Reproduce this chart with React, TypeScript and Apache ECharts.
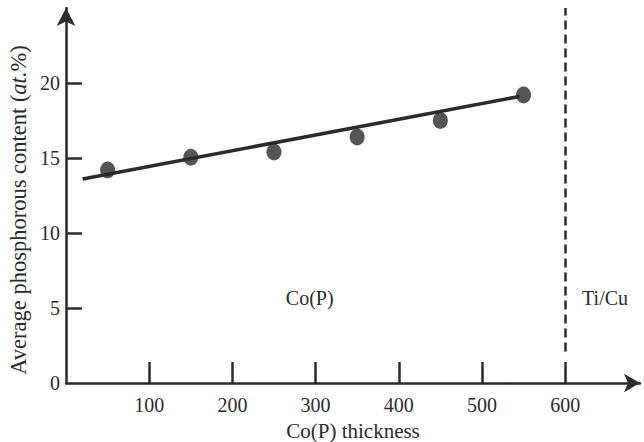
import React, { useEffect, useRef } from "react";
import * as echarts from "echarts";

const thickness = [50, 150, 250, 350, 450, 550];
const phosphorus = [14.2, 15.05, 15.4, 16.4, 17.5, 19.2];
const fitX = [20, 545];
const fitY = [13.6, 19.1];
const xTicks = [100, 200, 300, 400, 500, 600];
const yTicks = [5, 10, 15, 20];
const yLabels = [0, 5, 10, 15, 20];
const boundaryX = 600;
const regionLabels = [
  { name: "Co(P)", x: 293, y: 5.7 },
  { name: "Ti/Cu", x: 648, y: 5.7 },
];

const INK = "#2b2b2b";
const FONT = "Liberation Serif";

export default function App() {
  const ref = useRef<HTMLDivElement>(null);
  useEffect(() => {
    if (!ref.current) return;
    const chart = echarts.init(ref.current, undefined, { renderer: "svg" });
    chart.setOption({
      animation: false,
      backgroundColor: "#fff",
      textStyle: { fontFamily: FONT, color: INK },
      grid: { left: 66, top: 8, width: 574, height: 375, outerBoundsMode: "none", containLabel: false },
      xAxis: {
        type: "value",
        min: 0,
        max: 690,
        interval: 100,
        splitLine: { show: false },
        axisLine: { show: true, symbol: ["none", "arrow"], symbolSize: [14, 16], lineStyle: { color: INK, width: 2.5 } },
        axisTick: { show: true, inside: true, length: 21, customValues: xTicks, lineStyle: { color: INK, width: 2.5 } },
        axisLabel: { customValues: xTicks, color: INK, fontFamily: FONT, fontSize: 20, margin: 12 },
        name: "Co(P) thickness",
        nameLocation: "middle",
        nameGap: 30,
        nameTextStyle: { color: INK, fontFamily: FONT, fontSize: 21, lineHeight: 22 },
      },
      yAxis: {
        type: "value",
        min: 0,
        max: 25,
        interval: 5,
        splitLine: { show: false },
        axisLine: { show: true, symbol: ["none", "arrow"], symbolSize: [14, 18], lineStyle: { color: INK, width: 2.5 } },
        axisTick: { show: true, inside: true, length: 16, customValues: yTicks, lineStyle: { color: INK, width: 2.5 } },
        axisLabel: { customValues: yLabels, color: INK, fontFamily: FONT, fontSize: 20, margin: 6 },
      },
      graphic: [
        {
          type: "text",
          x: 18,
          y: 210,
          rotation: Math.PI / 2,
          style: {
            text: "{n|Average phosphorous content (}{i|at.}{n|%)}",
            align: "center",
            verticalAlign: "middle",
            rich: {
              n: { fontFamily: FONT, fontSize: 22.5, fill: INK, color: INK },
              i: { fontFamily: FONT, fontSize: 22.5, fontStyle: "italic", fill: INK, color: INK },
            },
          },
        },
      ],
      series: [
        {
          type: "line",
          data: fitX.map((x, i) => [x, fitY[i]]),
          symbol: "none",
          lineStyle: { color: INK, width: 3.5 },
          z: 2,
          markLine: {
            silent: true,
            symbol: ["none", "none"],
            label: { show: false },
            lineStyle: { color: INK, width: 2.5, type: [9, 5] },
            data: [[{ coord: [boundaryX, 2.1] }, { coord: [boundaryX, 25] }]],
          },
        },
        {
          type: "scatter",
          data: thickness.map((x, i) => [x, phosphorus[i]]),
          symbol: "circle",
          symbolSize: [15, 17],
          itemStyle: { color: INK },
          z: 3,
          markPoint: {
            symbol: "rect",
            symbolSize: 1,
            itemStyle: { color: "rgba(0,0,0,0)" },
            label: { show: true, position: "inside", formatter: "{b}", color: INK, fontFamily: FONT, fontSize: 20 },
            data: regionLabels.map((r) => ({ name: r.name, coord: [r.x, r.y] })),
          },
        },
      ],
    });
    return () => chart.dispose();
  }, []);
  return <div ref={ref} style={{ position: "fixed", left: 0, top: 0, width: 644, height: 442 }} />;
}
